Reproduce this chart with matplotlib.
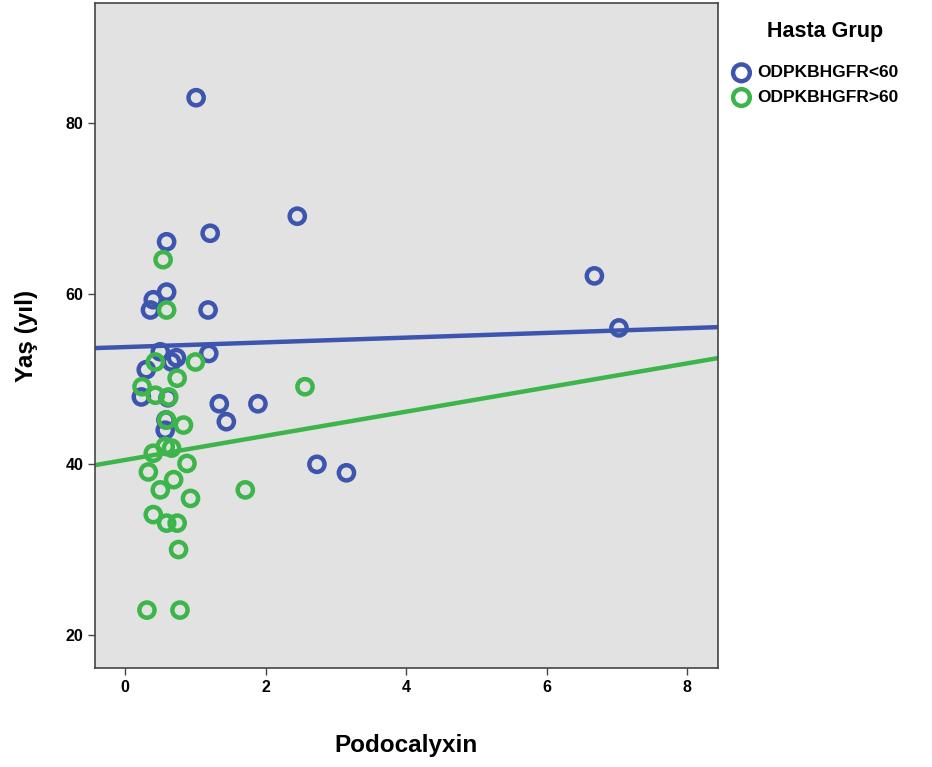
import matplotlib
matplotlib.use("Agg")
import matplotlib.pyplot as plt
import numpy as np

plt.rcParams['font.family'] = ['Liberation Sans', 'DejaVu Sans']

groups = ["ODPKBHGFR<60", "ODPKBHGFR>60"]
colors = ["#3D55AE", "#3CB54A"]

blue_x = [1.01, 2.45, 0.59, 1.21, 6.68, 7.03, 0.59, 0.40, 0.36, 1.18,
          0.50, 0.73, 1.19, 0.30, 0.66, 0.23, 0.61, 1.34, 1.44, 1.89,
          0.58, 2.73, 3.15, 0.57]
blue_y = [83.0, 69.1, 66.1, 67.1, 62.1, 56.0, 60.2, 59.3, 58.1, 58.1,
          53.2, 52.5, 53.0, 51.1, 52.0, 47.9, 47.8, 47.1, 45.0, 47.1,
          45.2, 40.0, 39.0, 44.0]

green_x = [0.54, 0.59, 0.43, 1.00, 0.74, 0.24, 0.43, 0.62, 0.59, 0.83,
           2.56, 0.57, 0.40, 0.66, 0.88, 0.33, 0.69, 0.50, 0.93, 0.40,
           0.59, 0.74, 0.76, 0.31, 0.78, 1.71]
green_y = [64.0, 58.1, 52.0, 52.0, 50.1, 49.1, 48.1, 47.9, 45.2, 44.6,
           49.1, 42.1, 41.3, 41.9, 40.1, 39.1, 38.2, 37.0, 36.0, 34.1,
           33.1, 33.1, 30.0, 22.9, 22.9, 37.0]

# fit lines (intercept, slope)
blue_fit = (53.75, 0.277)
green_fit = (40.51, 1.416)

xlim = (-0.43, 8.44)
ylim = (16.1, 94.1)
xticks = [0, 2, 4, 6, 8]
yticks = [20, 40, 60, 80]

fig = plt.figure(figsize=(9.32, 7.67), dpi=100)
ax = fig.add_axes([0.1019, 0.129, 0.6685, 0.867])
ax.set_facecolor("#E2E2E2")

for xs, ys, c, lab in [(blue_x, blue_y, colors[0], groups[0]),
                       (green_x, green_y, colors[1], groups[1])]:
    ax.scatter(xs, ys, s=120, facecolors="none", edgecolors=c,
               linewidths=3.2, label=lab, zorder=3)

lx = np.array(xlim)
for (b0, b1), c in [(blue_fit, colors[0]), (green_fit, colors[1])]:
    ax.plot(lx, b0 + b1 * lx, color=c, lw=3.2, zorder=2)

ax.set_xlim(*xlim)
ax.set_ylim(*ylim)
ax.set_xticks(xticks)
ax.set_yticks(yticks)
ax.tick_params(axis='both', labelsize=11.5, length=5, width=1, color="#444444",
               direction='out')
for lbl in ax.get_xticklabels() + ax.get_yticklabels():
    lbl.set_fontweight('bold')
for s in ax.spines.values():
    s.set_color("#444444")
    s.set_linewidth(1.2)

ax.set_xlabel("Podocalyxin", fontsize=17.5, fontweight='bold', labelpad=28)
ax.set_ylabel("Yaş (yıl)", fontsize=17.5, fontweight='bold', labelpad=20)

fig.text(825 / 932, 1 - 32 / 767, "Hasta Grup", fontsize=15.5, fontweight='bold',
         ha='center', va='center')
leg = ax.legend(loc='upper left', bbox_to_anchor=(1.0, 1 - 50 / 665.), frameon=False,
                fontsize=12.5, handletextpad=0.25, borderpad=0.3, labelspacing=0.55,
                handlelength=1.3, markerscale=1.1, borderaxespad=0.4)
for t in leg.get_texts():
    t.set_fontweight('bold')

fig.savefig("out.png", dpi=100)
